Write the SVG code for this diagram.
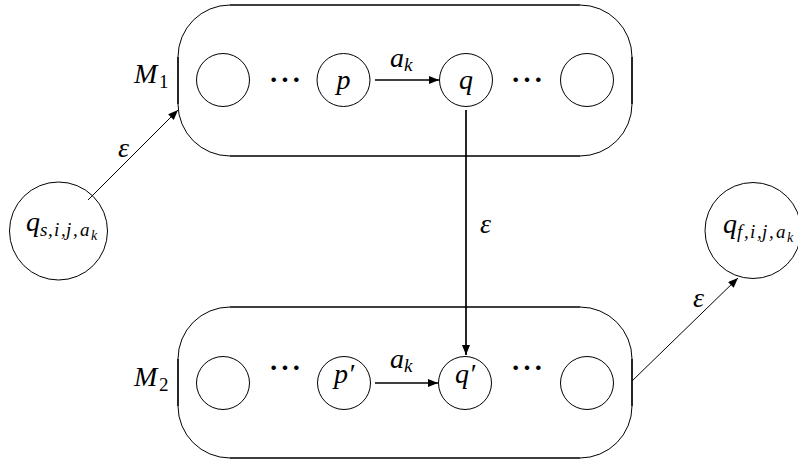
<svg xmlns="http://www.w3.org/2000/svg" width="798" height="462" viewBox="0 0 798 462">
<style>
.thin{fill:none;stroke:#000;stroke-width:1}
.thick{fill:none;stroke:#000;stroke-width:1.7}
.st{fill:#fff;stroke:#000;stroke-width:1}
.m{font-family:'Liberation Serif',serif;font-style:italic;font-size:28px;fill:#000}
.u{font-style:normal;font-size:19px}
.s{font-size:19px}
.ss{font-size:14px}
.dots{font-family:'Noto Sans CJK SC','DejaVu Sans',sans-serif;font-size:34px;fill:#000;text-anchor:middle}
.c1{fill:none;stroke:#000;stroke-width:1.7}
.c2{fill:none;stroke:#000;stroke-width:1}
</style>
<defs>
<marker id="ah" viewBox="0 0 10 8" refX="10" refY="4" markerWidth="10" markerHeight="8" markerUnits="userSpaceOnUse" orient="auto">
<path d="M0,0 L10,4 L0,8 Z" fill="#000"/>
</marker>
</defs>
<rect width="798" height="462" fill="#fff"/>

<g id="M1">
<path class="thin" d="M230,5 A52,52 0 0 0 178,57 M178,104 A52,52 0 0 0 230,156 M580,5 A52,52 0 0 1 632,57 M632,104 A52,52 0 0 1 580,156"/>
<path class="thick" d="M230,5 H580 M230,156 H580 M178,57 V104 M632,57 V104"/>
<text class="m" x="134" y="83">M<tspan class="u" x="159" y="88">1</tspan></text>
</g>
<g id="M2">
<path class="thin" d="M230,307 A52,52 0 0 0 178,359 M178,406 A52,52 0 0 0 230,458 M580,307 A52,52 0 0 1 632,359 M632,406 A52,52 0 0 1 580,458"/>
<path class="thick" d="M230,307 H580 M230,458 H580 M178,359 V406 M632,359 V406"/>
<text class="m" x="134" y="386">M<tspan class="u" x="159" y="391">2</tspan></text>
</g>

<g id="n1a"><circle class="st" cx="223" cy="80" r="26.5"/></g>
<g id="dots1"><text class="dots" x="285" y="93">⋯</text></g>
<g id="p"><circle class="st" cx="343.5" cy="80" r="26.5"/><text class="m" x="343.5" y="89" text-anchor="middle">p</text></g>
<g id="q"><circle class="st" cx="466" cy="80" r="26.5"/><text class="m" x="466" y="89" text-anchor="middle">q</text></g>
<g id="dots2"><text class="dots" x="527" y="93">⋯</text></g>
<g id="n1b"><circle class="st" cx="587" cy="80" r="26.5"/></g>

<g id="n2a"><circle class="st" cx="223" cy="383" r="26.5"/></g>
<g id="dots3"><text class="dots" x="285" y="381">⋯</text></g>
<g id="p2"><circle class="st" cx="344" cy="383" r="26.5"/><text class="m" x="344" y="383" text-anchor="middle">p′</text></g>
<g id="q2"><circle class="st" cx="465" cy="383" r="26.5"/><text class="m" x="465" y="383" text-anchor="middle">q′</text></g>
<g id="dots4"><text class="dots" x="527" y="381">⋯</text></g>
<g id="n2b"><circle class="st" cx="587" cy="383" r="26.5"/></g>

<g id="qs"><circle class="st" cx="58.5" cy="231" r="49"/>
<text class="m" x="26" y="231">q<tspan class="s" x="40 48 54 61 66 73 80" y="236">s,i,j,a</tspan><tspan class="ss" x="91" y="240">k</tspan></text></g>
<g id="qf"><circle class="st" cx="753" cy="230.5" r="48"/>
<text class="m" x="723" y="233">q<tspan class="s" x="737 744 750 757 762 769 776" y="238">f,i,j,a</tspan><tspan class="ss" x="787" y="242">k</tspan></text></g>

<g id="connectors">
<line class="c1" x1="375" y1="80" x2="439" y2="80" marker-end="url(#ah)"/>
<line class="c1" x1="375" y1="383" x2="438" y2="383" marker-end="url(#ah)"/>
<line class="c1" x1="466" y1="110" x2="466" y2="355" marker-end="url(#ah)"/>
<line class="c2" x1="88" y1="200" x2="178" y2="110" marker-end="url(#ah)"/>
<line class="c2" x1="632" y1="381" x2="738" y2="278" marker-end="url(#ah)"/>
<text class="m" x="390" y="67">a<tspan class="s" x="404" y="71">k</tspan></text>
<text class="m" x="390" y="368">a<tspan class="s" x="404" y="372">k</tspan></text>
<text class="m" x="118" y="157">ε</text>
<text class="m" x="480" y="233">ε</text>
<text class="m" x="693" y="307">ε</text>
</g>
</svg>
